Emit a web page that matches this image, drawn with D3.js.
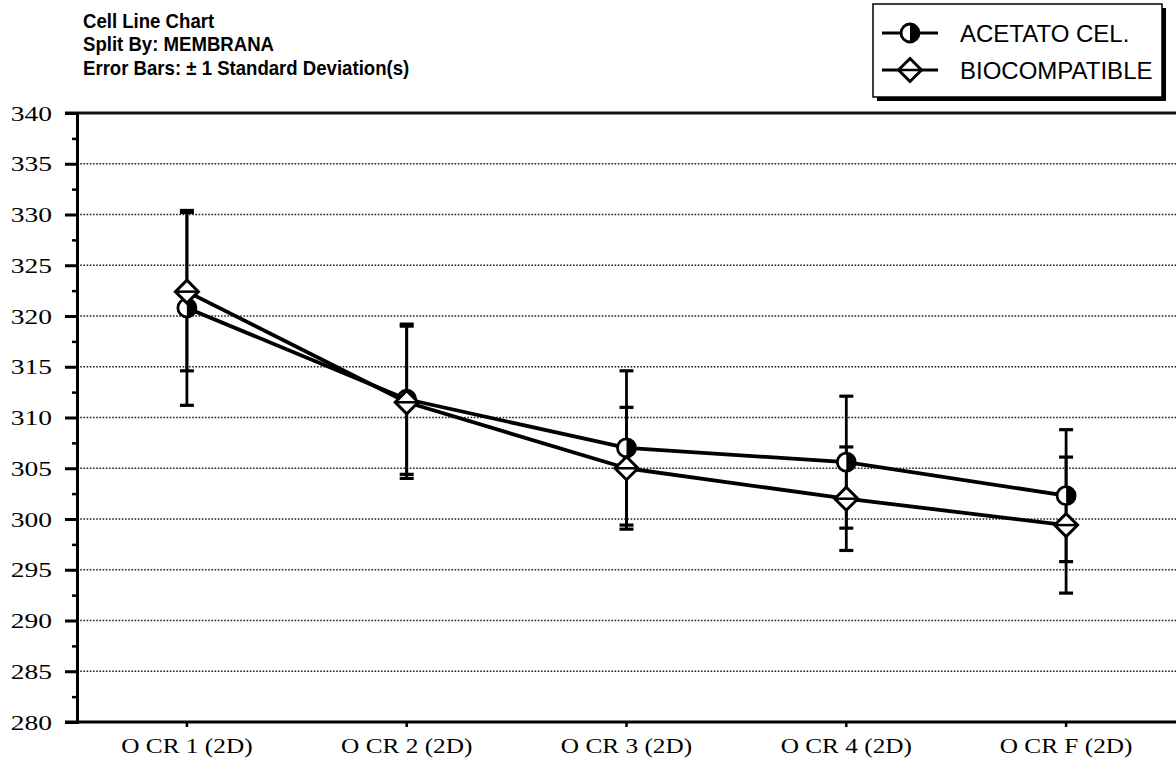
<!DOCTYPE html>
<html>
<head>
<meta charset="utf-8">
<script src="https://cdn.jsdelivr.net/npm/d3@7"></script>
<style>
  html, body { margin: 0; padding: 0; background: #fff; }
  svg { display: block; }
</style>
</head>
<body>
<svg id="chart" width="1176" height="758"></svg>
<script>
// Cell means and standard deviations per time point, split by membrane type
const categories = ["O CR 1 (2D)", "O CR 2 (2D)", "O CR 3 (2D)", "O CR 4 (2D)", "O CR F (2D)"];
const acetatoMean = [320.8, 311.8, 307.0, 305.6, 302.3];
const acetatoSD   = [9.6, 7.4, 7.6, 6.5, 6.5];
const bioMean     = [322.4, 311.5, 305.0, 302.0, 299.4];
const bioSD       = [7.8, 7.5, 6.0, 5.1, 6.7];
const yTicks      = [280, 285, 290, 295, 300, 305, 310, 315, 320, 325, 330, 335, 340];
const yMinorTicks = [282.5, 287.5, 292.5, 297.5, 302.5, 307.5, 312.5, 317.5, 322.5, 327.5, 332.5, 337.5];
const titleLines  = ["Cell Line Chart", "Split By: MEMBRANA", "Error Bars: \u00B1 1 Standard Deviation(s)"];
const seriesNames = ["ACETATO CEL.", "BIOCOMPATIBLE"];

const svg = d3.select("#chart");
const plotLeft = 77, plotRight = 1176, plotTop = 113, plotBottom = 722;
const serif = "'Liberation Serif', 'Times New Roman', serif";
const sans = "'Liberation Sans', Arial, Helvetica, sans-serif";

const x = d3.scaleBand().domain(categories).range([plotLeft, plotRight]);
const cx = c => x(c) + x.bandwidth() / 2;
const y = d3.scaleLinear().domain([280, 340]).range([plotBottom, plotTop]);

// Dotted horizontal grid
svg.append("g")
  .selectAll("line")
  .data(yTicks.filter(v => v > 280 && v < 340))
  .join("line")
  .attr("x1", plotLeft).attr("x2", plotRight)
  .attr("y1", d => y(d)).attr("y2", d => y(d))
  .attr("stroke", "#222")
  .attr("stroke-width", 1.5)
  .attr("stroke-dasharray", "1.6,1.6");

// Top frame line
svg.append("line")
  .attr("x1", plotLeft - 12).attr("x2", plotRight)
  .attr("y1", y(340)).attr("y2", y(340))
  .attr("stroke", "#111").attr("stroke-width", 2.8);

// Left axis with major and minor ticks
const yAxis = svg.append("g")
  .attr("transform", `translate(${plotLeft},0)`)
  .call(d3.axisLeft(y).tickValues(yTicks).tickSize(12).tickPadding(13).tickFormat(d3.format("d")));
yAxis.select(".domain").attr("stroke-width", 3).attr("stroke", "#000");
yAxis.selectAll(".tick line").attr("stroke-width", 3);
const yLabelStretch = 1.25;
yAxis.selectAll(".tick text")
  .attr("font-family", serif)
  .attr("font-size", 22)
  .attr("fill", "#000")
  .attr("x", -25 / yLabelStretch)
  .attr("transform", `scale(${yLabelStretch},1)`);

const yMinor = svg.append("g")
  .attr("transform", `translate(${plotLeft},0)`)
  .call(d3.axisLeft(y).tickValues(yMinorTicks).tickSize(5).tickFormat(""));
yMinor.select(".domain").remove();
yMinor.selectAll(".tick line").attr("stroke-width", 2.5);

// Bottom axis
const xAxis = svg.append("g")
  .attr("transform", `translate(0,${plotBottom})`)
  .call(d3.axisBottom(x).tickSize(5).tickPadding(10));
xAxis.select(".domain").attr("stroke-width", 3).attr("d", `M${plotLeft - 12},0H${plotRight}`);
xAxis.selectAll(".tick line").attr("stroke-width", 2.5);
xAxis.selectAll(".tick text")
  .attr("font-family", serif)
  .attr("font-size", 22)
  .attr("fill", "#000")
  .attr("transform", "scale(1.15,1)");

const series = [
  { name: seriesNames[0], mean: acetatoMean, sd: acetatoSD, marker: "circle" },
  { name: seriesNames[1], mean: bioMean, sd: bioSD, marker: "diamond" }
];

// Error bars (± 1 SD)
const capHalf = 7;
series.forEach(s => {
  const g = svg.append("g").attr("stroke", "#000");
  categories.forEach((c, i) => {
    const px = cx(c);
    const lo = y(s.mean[i] - s.sd[i]), hi = y(s.mean[i] + s.sd[i]);
    g.append("line").attr("x1", px).attr("x2", px).attr("y1", lo).attr("y2", hi).attr("stroke-width", 2.8);
    g.append("line").attr("x1", px - capHalf).attr("x2", px + capHalf).attr("y1", lo).attr("y2", lo).attr("stroke-width", 3.2);
    g.append("line").attr("x1", px - capHalf).attr("x2", px + capHalf).attr("y1", hi).attr("y2", hi).attr("stroke-width", 3.2);
  });
});

// Series lines
const line = d3.line().x((d, i) => cx(categories[i])).y(d => y(d));
series.forEach(s => {
  svg.append("path")
    .datum(s.mean)
    .attr("d", line)
    .attr("fill", "none")
    .attr("stroke", "#000")
    .attr("stroke-width", 3.8)
    .attr("stroke-linejoin", "round");
});

// Marker drawing helpers
function drawCircle(g, px, py) {
  const r = 9;
  g.append("circle").attr("cx", px).attr("cy", py).attr("r", r).attr("fill", "#fff");
  g.append("path")
    .attr("d", `M${px},${py - r}A${r},${r} 0 0 1 ${px},${py + r}Z`)
    .attr("fill", "#000");
  g.append("circle").attr("cx", px).attr("cy", py).attr("r", r)
    .attr("fill", "none").attr("stroke", "#000").attr("stroke-width", 2.8);
}
function drawDiamond(g, px, py) {
  const h = 11.5;
  g.append("path")
    .attr("d", `M${px},${py - h}L${px + h},${py}L${px},${py + h}L${px - h},${py}Z`)
    .attr("fill", "#fff").attr("stroke", "#000").attr("stroke-width", 3)
    .attr("stroke-linejoin", "miter");
  g.append("line")
    .attr("x1", px - h).attr("x2", px + h).attr("y1", py).attr("y2", py)
    .attr("stroke", "#000").attr("stroke-width", 2.5);
}
const drawMarker = { circle: drawCircle, diamond: drawDiamond };

// Markers: circles first, diamonds on top
series.forEach(s => {
  const g = svg.append("g");
  s.mean.forEach((v, i) => drawMarker[s.marker](g, cx(categories[i]), y(v)));
});

// Title block
svg.append("g")
  .attr("transform", "translate(83,0) scale(0.93,1)")
  .selectAll("text")
  .data(titleLines)
  .join("text")
  .attr("x", 0)
  .attr("y", (d, i) => 28 + i * 23.5)
  .attr("font-family", sans)
  .attr("font-weight", "bold")
  .attr("font-size", 20)
  .attr("fill", "#000")
  .text(d => d);

// Legend with drop shadow
const legend = svg.append("g");
legend.append("rect").attr("x", 877).attr("y", 8).attr("width", 289).attr("height", 93).attr("fill", "#000");
legend.append("rect").attr("x", 873).attr("y", 4).attr("width", 289).attr("height", 93)
  .attr("fill", "#fff").attr("stroke", "#000").attr("stroke-width", 1.5);
series.forEach((s, i) => {
  const ly = 33 + i * 37;
  legend.append("line").attr("x1", 882).attr("x2", 938).attr("y1", ly).attr("y2", ly)
    .attr("stroke", "#000").attr("stroke-width", 3);
  drawMarker[s.marker](legend, 910, ly);
  legend.append("text")
    .attr("x", 960).attr("y", ly + 8.5)
    .attr("font-family", sans)
    .attr("font-size", 24)
    .attr("fill", "#000")
    .text(s.name);
});
</script>
</body>
</html>
